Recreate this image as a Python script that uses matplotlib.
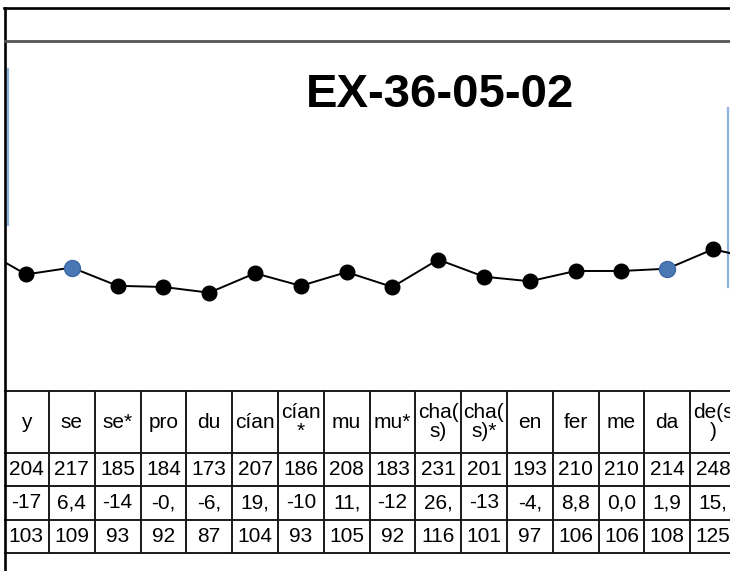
import numpy as np
import matplotlib
matplotlib.use("Agg")
import matplotlib.pyplot as plt
from matplotlib.lines import Line2D

plt.rcParams['font.family'] = ['Liberation Sans', 'DejaVu Sans']

# ---- data ----
header_labels = ["y", "se", "se*", "pro", "du", "cían", "cían\n*", "mu", "mu*",
                 "cha(\ns)", "cha(\ns)*", "en", "fer", "me", "da", "de(s\n)"]
row_totals = ["204", "217", "185", "184", "173", "207", "186", "208", "183",
              "231", "201", "193", "210", "210", "214", "248"]
row_change = ["-17", "6,4", "-14", "-0,", "-6,", "19,", "-10", "11,", "-12",
              "26,", "-13", "-4,", "8,8", "0,0", "1,9", "15,"]
index_values = [103, 109, 93, 92, 87, 104, 93, 105, 92, 116, 101, 97, 106, 106, 108, 125]
prev_value = 126   # point just left of the visible window
next_value = 116   # point just right of the visible window
highlight_idx = [1, 14]
guide_x = [-0.40, 15.327]
guide_top = [283, 249]
guide_bottom = [146, 92]

W, H = 730, 571
fig = plt.figure(figsize=(W / 100, H / 100), dpi=100)

x0 = 26.0      # pixel of first category centre
step = 45.8    # pixels per category
left_px = 5.0
xlim = ((left_px - x0) / step, (W - x0) / step)

# ---- chart area ----
ax = fig.add_axes([left_px / W, 1 - 391 / H, 1 - left_px / W, 350 / H])
ax.set_xlim(*xlim)
ax.set_ylim(0.9, 307.4)
ax.axis('off')

x_full = np.arange(-1, len(index_values) + 1)
v_full = [prev_value] + index_values + [next_value]
ax.plot(x_full, v_full, color='black', lw=1.4, marker='o', ms=10.5,
        mfc='black', mec='black', zorder=3)
ax.plot([x_full[i + 1] for i in highlight_idx],
        [index_values[i] for i in highlight_idx],
        linestyle='none', marker='o', ms=11.5, mfc='#4a78b5', mec='#3d6aa6', zorder=4)
for gx, gt, gb in zip(guide_x, guide_top, guide_bottom):
    ax.plot([gx, gx], [gb, gt], color='#8fb3e0', lw=1.6, zorder=2, clip_on=False)

# ---- table ----
tax = fig.add_axes([left_px / W, 1 - 553 / H, 1 - left_px / W, 162 / H])
tax.set_xlim(*xlim)
tax.set_ylim(162, 0)
tax.axis('off')
row_edges = [0, 62, 95.3, 128.6, 162]
ncol = len(header_labels)
for i in range(1, ncol + 1):
    tax.plot([i - 0.5, i - 0.5], [0, 162], color='#1a1a1a', lw=1.4, clip_on=False)
for yb in row_edges:
    tax.plot([xlim[0], ncol - 0.5], [yb, yb], color='#1a1a1a', lw=1.4, clip_on=False)

for i, lab in enumerate(header_labels):
    tax.text(i, 31, lab, ha='center', va='center', fontsize=15, linespacing=1.0)
for r, row in enumerate([row_totals, row_change, [str(v) for v in index_values]]):
    yc = (row_edges[r + 1] + row_edges[r + 2]) / 2
    for i, s in enumerate(row):
        tax.text(i, yc, s, ha='center', va='center', fontsize=15)

# ---- frame / title ----
fig.add_artist(Line2D([4 / W, 1], [1 - 8 / H, 1 - 8 / H], color='black', lw=1.9,
                      transform=fig.transFigure))
fig.add_artist(Line2D([5 / W, 5 / W], [0, 1 - 8 / H], color='black', lw=1.9,
                      transform=fig.transFigure))
fig.add_artist(Line2D([5 / W, 1], [1 - 40.8 / H, 1 - 40.8 / H], color='#555555', lw=2.0,
                      transform=fig.transFigure))

fig.text(440 / W, 1 - 107 / H, "EX-36-05-02", ha='center', va='baseline',
         fontsize=34, fontweight='bold')

fig.savefig("out.png", dpi=100)
